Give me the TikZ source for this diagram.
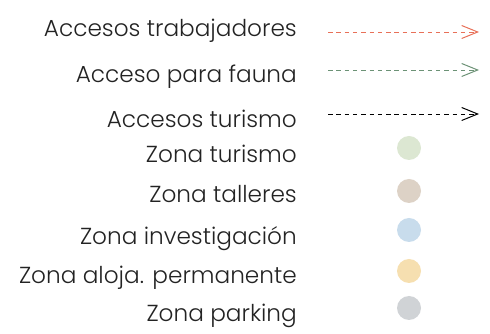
\documentclass[tikz,border=0pt]{standalone}
\usepackage{fontspec}
\setmainfont{Poppins Light}
\usetikzlibrary{arrows.meta}

\begin{document}
\begin{tikzpicture}[x=1pt,y=1pt]
        % Define legend properties
        \def\textx{297}
        \def\linestart{328}
        \def\lineend{479}
        \def\dotx{409}
        \def\dotr{12}

        % Access colors and zone colors
        \definecolor{textgray}{RGB}{35, 35, 35}
        \definecolor{trabajo}{RGB}{232, 112, 88}
        \definecolor{fauna}{RGB}{108, 146, 118}
        \definecolor{turismo}{RGB}{220, 231, 210}
        \definecolor{talleres}{RGB}{221, 210, 198}
        \definecolor{investigacion}{RGB}{200, 220, 236}
        \definecolor{aloja}{RGB}{246, 223, 176}
        \definecolor{parking}{RGB}{208, 211, 214}

        \tikzset{
            label/.style={anchor=base east, text=textgray, font=\fontsize{23.2}{26}\selectfont, inner sep=0pt},
            acceso/.style={line width=0.9pt, dash pattern=on 4.5pt off 3.8pt, -{Straight Barb[length=16pt, width=13pt, line width=1pt]}},
            zona/.style={circle, minimum size=2*\dotr pt, inner sep=0pt}
        }

        \useasboundingbox (0, 0) rectangle (490, 334);

        % Accesos trabajadores
        \node[label] (trabajadores) at (\textx, 334-37) {Accesos trabajadores};
        \coordinate (trabajoA) at (\linestart, 334-32);
        \coordinate (trabajoB) at (\lineend, 334-32);
        \draw[acceso, trabajo] (trabajoA) -- (trabajoB);

        % Acceso para fauna
        \node[label] (fauna) at (\textx, 334-83) {Acceso para fauna};
        \coordinate (faunaA) at (\linestart, 334-70);
        \coordinate (faunaB) at (\lineend, 334-70);
        \draw[acceso, fauna] (faunaA) -- (faunaB);

        % Accesos turismo
        \node[label] (turismo) at (\textx, 334-128) {Accesos turismo};
        \coordinate (turismoA) at (\linestart, 334-114);
        \coordinate (turismoB) at (\lineend, 334-114);
        \draw[acceso, black] (turismoA) -- (turismoB);

        % Zonas
        \node[label] (zturismo) at (\textx, 334-163) {Zona turismo};
        \node[zona, fill=turismo] (dturismo) at (\dotx, 334-148) {};

        \node[label] (ztalleres) at (\textx, 334-203) {Zona talleres};
        \node[zona, fill=talleres] (dtalleres) at (\dotx, 334-191) {};

        \node[label] (zinvestigacion) at (\textx, 334-245) {Zona investigación};
        \node[zona, fill=investigacion] (dinvestigacion) at (\dotx, 334-230) {};

        \node[label] (zaloja) at (\textx, 334-284) {Zona aloja. permanente};
        \node[zona, fill=aloja] (daloja) at (\dotx, 334-271) {};

        \node[label] (zparking) at (\textx, 334-322) {Zona parking};
        \node[zona, fill=parking] (dparking) at (\dotx, 334-308) {};
    \end{tikzpicture}
\end{document}
